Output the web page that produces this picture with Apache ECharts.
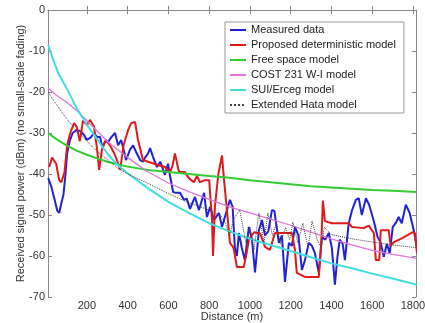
<!DOCTYPE html>
<html>
<head>
<meta charset="utf-8">
<script src="https://cdn.jsdelivr.net/npm/echarts@6/dist/echarts.min.js"></script>
<style>
  html, body { margin: 0; padding: 0; background: #fff; }
  #chart { width: 425px; height: 323px; }
</style>
</head>
<body>
<div id="chart"></div>
<script>
// distance (m), received power (dBm)
const measured = [[10,-41],[25,-43],[40,-46],[55,-49],[64,-49.5],[75,-47],[85,-45],[95,-40],[103,-35],[115,-32],[130,-30],[150,-29.3],[167,-29.5],[186,-30.5],[200,-31.7],[220,-31],[235,-30],[250,-31],[265,-31],[274,-33.4],[290,-32],[304,-32.2],[320,-31],[338,-30],[353,-33],[368,-31.7],[380,-34],[392,-36.6],[412,-34],[427,-33],[440,-34.5],[461,-36.6],[475,-37],[485,-36],[500,-35],[510,-33.7],[524,-35.8],[544,-38.3],[560,-37],[583,-40.2],[598,-37.5],[608,-40.5],[623,-44.4],[637,-44.6],[657,-44.6],[676,-46.3],[690,-46],[706,-48.5],[730,-45.6],[750,-48.8],[775,-44.6],[789,-50.5],[805,-48],[824,-51.2],[848,-49.5],[863,-52.9],[880,-50],[902,-46.3],[915,-48],[926,-58],[936,-60],[946,-54.4],[960,-58],[975,-61],[995,-52.9],[1010,-56],[1025,-64],[1044,-53.7],[1059,-51.2],[1074,-55],[1090,-54],[1108,-48.8],[1120,-49],[1142,-56.8],[1157,-55],[1172,-66.3],[1191,-56.8],[1206,-57.5],[1221,-52.9],[1238,-55],[1255,-63.4],[1270,-61],[1289,-56.8],[1304,-57.5],[1319,-59.3],[1338,-64.1],[1353,-55.4],[1370,-56],[1387,-54.4],[1402,-58],[1417,-67],[1430,-60],[1441,-56],[1455,-57],[1466,-61],[1485,-52],[1500,-49],[1520,-46.3],[1534,-45.9],[1549,-50],[1569,-45.9],[1585,-47.5],[1608,-51.5],[1627,-55.4],[1642,-56.8],[1657,-60.2],[1672,-57],[1686,-59.3],[1701,-52.9],[1715,-52],[1730,-50.5],[1745,-52],[1765,-47.5],[1784,-49.5],[1804,-53.7],[1819,-57.8]];

const proposed = [[15,-38.3],[29,-36],[49,-37.5],[64,-41.5],[75,-42],[90,-39.5],[103,-33],[118,-30],[137,-27.6],[150,-28.5],[165,-32],[181,-27],[200,-28],[216,-26.8],[235,-28.5],[250,-34],[260,-39],[274,-34],[294,-31.7],[318,-33.4],[338,-35.4],[350,-37],[363,-39],[380,-33],[402,-29.3],[417,-27.6],[436,-27.3],[451,-31.7],[461,-33.7],[475,-36.6],[500,-37],[530,-37.5],[560,-38],[583,-38.3],[608,-39.5],[620,-38],[632,-35],[645,-38],[652,-39.5],[681,-39.5],[700,-41],[725,-42],[740,-40.5],[755,-42],[779,-41.5],[800,-41.5],[814,-51.2],[819,-60],[828,-48],[845,-40],[863,-35.5],[873,-41.5],[887,-48.8],[902,-56.8],[920,-58],[936,-62.7],[970,-62.7],[985,-59],[995,-56],[1020,-54.2],[1050,-54.5],[1074,-57.8],[1098,-58.5],[1123,-54.4],[1206,-54.4],[1221,-58.5],[1230,-64.1],[1270,-65.1],[1338,-65.1],[1350,-57],[1358,-46.5],[1368,-51.5],[1402,-52],[1450,-52],[1485,-52],[1500,-52.9],[1559,-53.2],[1583,-52.6],[1608,-54.4],[1618,-61],[1635,-61],[1642,-53.7],[1681,-53.7],[1691,-57.5],[1706,-56.6],[1750,-55.6],[1799,-54.2],[1810,-54.5],[1820,-59.3]];

const freeSpace = [[10,-30],[50,-31.5],[100,-33],[150,-34.3],[200,-35.3],[250,-36.2],[300,-37],[400,-38.2],[500,-39],[600,-39.5],[700,-40],[800,-40.5],[900,-40.9],[1000,-41.5],[1100,-42],[1200,-42.5],[1300,-43],[1400,-43.3],[1500,-43.6],[1600,-43.9],[1700,-44.1],[1820,-44.4]];

const cost231 = [[10,-19],[50,-20.8],[100,-22.5],[150,-24.5],[200,-27],[250,-29.5],[300,-32],[350,-34],[400,-36],[500,-39.5],[600,-42.2],[700,-44.3],[800,-46.2],[900,-48],[1000,-49.5],[1100,-51],[1200,-52.5],[1300,-54.2],[1400,-55.8],[1500,-57.3],[1600,-58.6],[1700,-59.6],[1820,-60.6]];

const suiErceg = [[10,-8.5],[30,-11.5],[60,-15.5],[100,-19],[150,-24],[200,-28],[250,-31.5],[300,-35],[350,-37.8],[400,-39.8],[500,-43.5],[600,-46.8],[700,-49.5],[800,-52],[900,-54],[1000,-55.8],[1100,-57.3],[1200,-58.8],[1300,-60.3],[1400,-61.8],[1500,-63],[1600,-64.3],[1700,-65.5],[1820,-67]];

const extHata = [[10,-20],[30,-21.6],[50,-23],[75,-24.8],[100,-26.5],[150,-29.5],[200,-32],[250,-34.5],[300,-36.5],[350,-38.5],[400,-40],[500,-42.3],[600,-44.8],[700,-47],[800,-48.8],[860,-50.3],[880,-52],[900,-55],[920,-51],[950,-48.8],[980,-56.8],[1000,-53],[1020,-58.5],[1044,-49.5],[1069,-56.8],[1088,-49.5],[1110,-55],[1130,-52],[1150,-57],[1175,-53],[1195,-56],[1211,-51.7],[1235,-56.8],[1260,-52],[1285,-58],[1305,-51.5],[1330,-56],[1350,-58],[1365,-53],[1400,-54.8],[1500,-55.8],[1600,-56.6],[1700,-57.3],[1820,-58]];

const xTicks = [200, 400, 600, 800, 1000, 1200, 1400, 1600, 1800];

const chart = echarts.init(document.getElementById('chart'));
const axisColor = '#888';
const font = 'Liberation Sans, Arial, sans-serif';

function line(name, data, color, width, type) {
  return {
    name: name, type: 'line', data: data,
    symbol: 'none', showSymbol: false, animation: false,
    lineStyle: { color: color, width: width, type: type || 'solid' },
    itemStyle: { color: color }
  };
}

chart.setOption({
  animation: false,
  textStyle: { fontFamily: font },
  grid: { left: 48, right: 9, top: 10, bottom: 26, outerBoundsMode: 'none' },
  legend: {
    orient: 'vertical', left: 225, top: 22,
    padding: [2, 8, 2, 4], itemGap: 3,
    itemWidth: 16, itemHeight: 12,
    itemStyle: { opacity: 0 },
    backgroundColor: '#fff', borderColor: '#999', borderWidth: 1,
    textStyle: { fontSize: 11, color: '#222', fontFamily: font, lineHeight: 12 },
    data: ['Measured data', 'Proposed deterministic model', 'Free space model',
           'COST 231 W-I model', 'SUI/Erceg model', 'Extended Hata model']
  },
  xAxis: [{
    type: 'value', min: 9, max: 1815, position: 'bottom',
    name: 'Distance (m)', nameLocation: 'middle', nameGap: 14, nameMoveOverlap: false,
    nameTextStyle: { fontSize: 11, color: '#333' },
    axisLine: { lineStyle: { color: axisColor } },
    axisTick: { inside: true, length: 4, customValues: xTicks, lineStyle: { color: axisColor } },
    axisLabel: { customValues: xTicks, fontSize: 11, color: '#333', margin: 3,
                 formatter: function (v) { return String(v); } },
    splitLine: { show: false }
  }, {
    type: 'value', min: 9, max: 1815, position: 'top',
    axisLine: { lineStyle: { color: axisColor } },
    axisTick: { inside: true, length: 4, customValues: xTicks, lineStyle: { color: axisColor } },
    axisLabel: { show: false },
    splitLine: { show: false }
  }],
  yAxis: [{
    type: 'value', min: -70, max: 0, interval: 10, position: 'left',
    name: 'Received signal power (dBm) (no small-scale fading)',
    nameLocation: 'middle', nameGap: 22, nameMoveOverlap: false,
    nameTextStyle: { fontSize: 11, color: '#333' },
    axisLine: { show: true, lineStyle: { color: axisColor } },
    axisTick: { show: true, inside: true, length: 4, lineStyle: { color: axisColor } },
    axisLabel: { fontSize: 11, color: '#333', margin: 3 },
    splitLine: { show: false }
  }, {
    type: 'value', min: -70, max: 0, interval: 10, position: 'right',
    axisLine: { show: true, lineStyle: { color: axisColor } },
    axisTick: { show: true, inside: true, length: 4, lineStyle: { color: axisColor } },
    axisLabel: { show: false },
    splitLine: { show: false }
  }],
  series: [
    line('Measured data', measured, '#2222d4', 2),
    line('Proposed deterministic model', proposed, '#e01a1a', 2),
    line('Free space model', freeSpace, '#33cc33', 2),
    line('COST 231 W-I model', cost231, '#dd77dd', 1.3),
    line('SUI/Erceg model', suiErceg, '#44dddd', 2),
    line('Extended Hata model', extHata, '#444444', 1, 'dotted')
  ]
});
</script>
</body>
</html>
